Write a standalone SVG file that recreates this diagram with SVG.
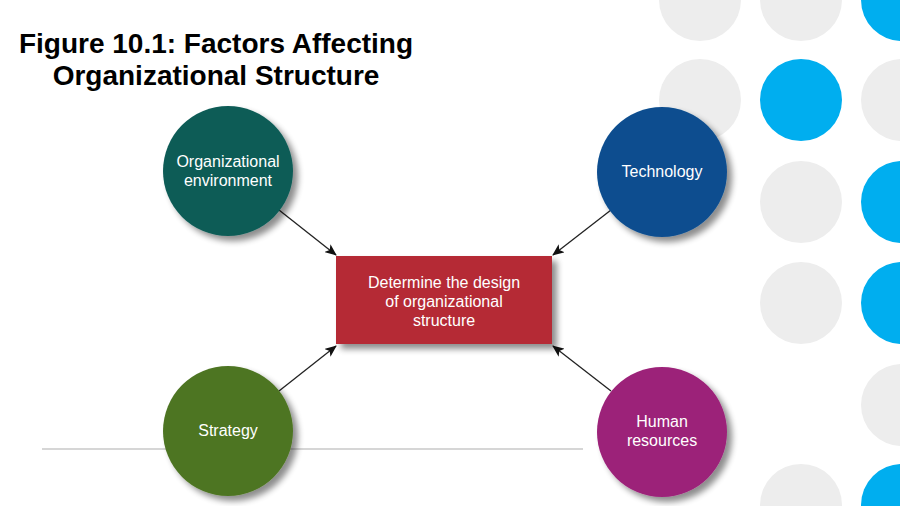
<svg xmlns="http://www.w3.org/2000/svg" width="900" height="506" viewBox="0 0 900 506">
<defs>
<style>
.g{fill:#ededed}
.b{fill:#00aeef}
.lbl{font-family:"Liberation Sans",Arial,sans-serif;font-size:16px;fill:#ffffff;text-anchor:middle}
.title{font-family:"Liberation Sans",Arial,sans-serif;font-size:28px;font-weight:bold;fill:#000;text-anchor:middle}
.conn{stroke:#222;stroke-width:1.3;fill:none;marker-end:url(#ah)}
</style>
<filter id="sh" x="-20%" y="-20%" width="150%" height="150%">
<feGaussianBlur in="SourceAlpha" stdDeviation="3"/>
<feOffset dx="5" dy="5" result="o"/>
<feComponentTransfer><feFuncA type="linear" slope="0.45"/></feComponentTransfer>
<feMerge><feMergeNode/><feMergeNode in="SourceGraphic"/></feMerge>
</filter>
<marker id="ah" viewBox="0 0 12 10" refX="11" refY="5" markerWidth="12" markerHeight="10" markerUnits="userSpaceOnUse" orient="auto">
<path d="M0,0 L12,5 L0,10 L3,5 Z" fill="#111"/>
</marker>
</defs>
<rect width="900" height="506" fill="#ffffff"/>
<g id="background-dots">
<circle class="g" cx="700" cy="0" r="41"/>
<circle class="g" cx="700" cy="100" r="41"/>
<circle class="g" cx="801" cy="0" r="41"/>
<circle class="b" cx="801" cy="100" r="41"/>
<circle class="g" cx="801" cy="202" r="41"/>
<circle class="g" cx="801" cy="303" r="41"/>
<circle class="g" cx="801" cy="505" r="41"/>
<circle class="b" cx="902" cy="0" r="41"/>
<circle class="g" cx="902" cy="100" r="41"/>
<circle class="b" cx="902" cy="202" r="41"/>
<circle class="b" cx="902" cy="303" r="41"/>
<circle class="g" cx="902" cy="405" r="41"/>
<circle class="b" cx="902" cy="505" r="41"/>
</g>
<g id="title">
<text class="title" x="216" y="53">Figure 10.1: Factors Affecting</text>
<text class="title" x="216" y="85">Organizational Structure</text>
</g>
<line x1="42" y1="449" x2="583" y2="449" stroke="#c8c8c8" stroke-width="1.5"/>
<g id="connectors">
<line class="conn" x1="279" y1="210" x2="336" y2="255"/>
<line class="conn" x1="611" y1="210" x2="553" y2="255"/>
<line class="conn" x1="279" y1="391" x2="336" y2="346"/>
<line class="conn" x1="611" y1="391" x2="553" y2="346"/>
</g>
<g id="center">
<rect x="336" y="256" width="216" height="88" fill="#b52a35" filter="url(#sh)"/>
<text class="lbl" x="444" y="288">Determine the design</text>
<text class="lbl" x="444" y="307">of organizational</text>
<text class="lbl" x="444" y="326">structure</text>
</g>
<g id="org-env">
<circle cx="228" cy="171" r="65" fill="#0f5c57" filter="url(#sh)"/>
<text class="lbl" x="228" y="167">Organizational</text>
<text class="lbl" x="228" y="186">environment</text>
</g>
<g id="technology">
<circle cx="662" cy="172" r="65" fill="#0b4e8f" filter="url(#sh)"/>
<text class="lbl" x="662" y="177">Technology</text>
</g>
<g id="strategy">
<circle cx="228" cy="431" r="65" fill="#4e7424" filter="url(#sh)"/>
<text class="lbl" x="228" y="436">Strategy</text>
</g>
<g id="human-resources">
<circle cx="662" cy="432" r="65" fill="#9c2179" filter="url(#sh)"/>
<text class="lbl" x="662" y="427">Human</text>
<text class="lbl" x="662" y="446">resources</text>
</g>
</svg>
